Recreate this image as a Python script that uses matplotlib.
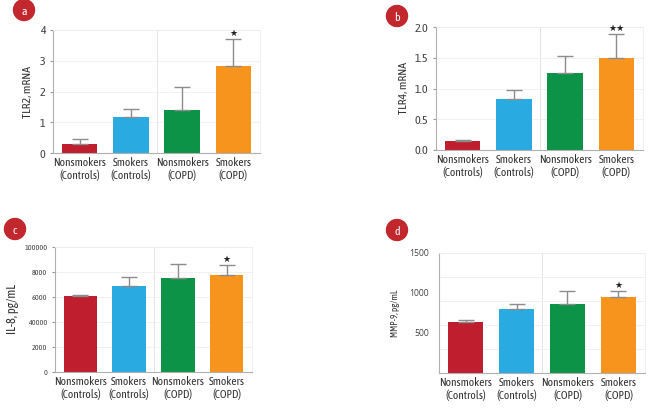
import matplotlib
matplotlib.use("agg")
from matplotlib import pyplot as plt
from matplotlib import font_manager
from matplotlib.patches import Ellipse

# look for a narrow face, the original uses a condensed font
narrow = None
stretch = "normal"
for f in font_manager.fontManager.ttflist:
    if f.name == "Liberation Sans Narrow":
        narrow = f.name
        break
for f in font_manager.fontManager.ttflist:
    if narrow is None and "ondensed" in f.name:
        narrow = f.name
for f in font_manager.fontManager.ttflist:
    if narrow is None and f.name == "DejaVu Sans" and "condensed" in str(f.stretch):
        narrow = "DejaVu Sans"
        stretch = "condensed"
if narrow is None:
    narrow = "Liberation Sans"
    label_size = 6.6
else:
    label_size = 8.2

plt.rcParams["font.family"] = [narrow, "DejaVu Sans"]
plt.rcParams["font.stretch"] = stretch

# group labels
groups = ["Nonsmokers\n(Controls)", "Smokers\n(Controls)", "Nonsmokers\n(COPD)", "Smokers\n(COPD)"]
bar_colors = ["#be1e2d", "#29abe2", "#0c9347", "#f7941d"]

# panel a: TLR2
tlr2_mean = [0.29, 1.17, 1.39, 2.83]
tlr2_err = [0.16, 0.26, 0.76, 0.87]
# panel b: TLR4
tlr4_mean = [0.15, 0.83, 1.26, 1.50]
tlr4_err = [0.02, 0.14, 0.27, 0.38]
# panel c: IL-8
il8_mean = [6050, 6920, 7560, 7800]
il8_err = [120, 660, 1110, 760]
il8_ticks = [0, 2000, 4000, 6000, 8000, 10000]
il8_ticklabels = ["0", "2000", "40000", "6000", "8000", "100000"]
# panel d: MMP-9
mmp9_mean = [633, 800, 862, 950]
mmp9_err = [30, 62, 167, 79]
mmp9_ticks = [500, 1000, 1500]
mmp9_grid = [300, 600, 900, 1200, 1500]

W, H = 649, 409
fig = plt.figure(figsize=(W / 100, H / 100), dpi=100)


def make_axes(left, top, right, bottom):
    return fig.add_axes([left / W, 1 - bottom / H, (right - left) / W, (bottom - top) / H])


def bar_panel(ax, mean, err, ylim, star):
    x = range(len(mean))
    ax.bar(x, mean, width=0.69, color=bar_colors, zorder=2)
    ax.errorbar(x, mean, yerr=[[0] * len(err), err], fmt="none", ecolor="#8c8c8c",
                elinewidth=1.0, capsize=6, capthick=1.0, zorder=3)
    ax.set_xlim(-0.52, 3.52)
    ax.set_ylim(*ylim)
    ax.set_xticks(list(x))
    ax.set_xticklabels(groups, fontsize=label_size, color="#333333", linespacing=1.1)
    ax.tick_params(axis="x", length=0, pad=3)
    ax.tick_params(axis="y", length=2, color="#999999", labelcolor="#444444")
    for s in ["top", "right"]:
        ax.spines[s].set_color("#eeeeee")
        ax.spines[s].set_linewidth(0.6)
    ax.spines["left"].set_color("#b0b0b0")
    ax.spines["bottom"].set_color("#b0b0b0")
    ax.spines["left"].set_linewidth(0.8)
    ax.spines["bottom"].set_linewidth(0.8)
    ax.axvline(1.5, color="#e4e4e4", lw=0.7, zorder=0)
    top = mean[3] + err[3]
    ax.text(3, top + (ylim[1] - ylim[0]) * 0.01, star, ha="center", va="bottom",
            fontsize=6.5, color="#222222", family="DejaVu Sans", stretch="normal")


def badge(cx, cy, letter):
    c = Ellipse((cx / W, 1 - cy / H), width=21 / W, height=21 / H,
                transform=fig.transFigure, color="#c1272d", zorder=5)
    fig.patches.append(c)
    fig.text(cx / W, 1 - cy / H - 0.004, letter, ha="center", va="center", color="white",
             fontsize=8.5, zorder=6)


# a
ax = make_axes(53, 30, 260, 153)
bar_panel(ax, tlr2_mean, tlr2_err, (0, 4), "★")
ax.set_yticks([0, 1, 2, 3, 4])
ax.tick_params(axis="y", labelsize=label_size + 0.5)
for v in [1, 2, 3, 4]:
    ax.axhline(v, color="#f0f0f0", lw=0.6, zorder=0)
ax.set_ylabel("TLR2, mRNA", fontsize=label_size + 0.3, color="#333333", labelpad=5)
badge(24, 10, "a")

# b
ax = make_axes(436, 27, 643, 150)
bar_panel(ax, tlr4_mean, tlr4_err, (0, 2.0), "★★")
ax.set_yticks([0, 0.5, 1.0, 1.5, 2.0])
ax.set_yticklabels(["0.0", "0.5", "1.0", "1.5", "2.0"])
ax.tick_params(axis="y", labelsize=label_size + 0.5)
for v in [0.5, 1.0, 1.5, 2.0]:
    ax.axhline(v, color="#f0f0f0", lw=0.6, zorder=0)
ax.set_ylabel("TLR4, mRNA", fontsize=label_size + 0.3, color="#333333", labelpad=4)
badge(397, 16, "b")

# c
ax = make_axes(55, 247, 252, 372)
bar_panel(ax, il8_mean, il8_err, (0, 10000), "★")
ax.set_yticks(il8_ticks)
ax.set_yticklabels(il8_ticklabels)
ax.tick_params(axis="y", labelsize=5.8)
for v in il8_ticks[1:]:
    ax.axhline(v, color="#efefef", lw=0.6, zorder=0)
ax.set_ylabel("IL-8, pg/mL", fontsize=label_size + 0.8, color="#333333", labelpad=4)
badge(15, 229, "c")

# d
ax = make_axes(439, 253, 645, 373)
bar_panel(ax, mmp9_mean, mmp9_err, (0, 1500), "★")
ax.set_yticks(mmp9_ticks)
ax.set_yticklabels([str(v) for v in mmp9_ticks], family="Open Sans", stretch="normal")
ax.tick_params(axis="y", labelsize=6.2, length=0, pad=7)
for v in mmp9_grid:
    ax.axhline(v, color="#eeeeee", lw=0.6, zorder=0)
ax.set_ylabel("MMP-9, pg/mL", fontsize=6.6, color="#333333", labelpad=7)
badge(397, 230, "d")

fig.savefig("out.png", dpi=100)
